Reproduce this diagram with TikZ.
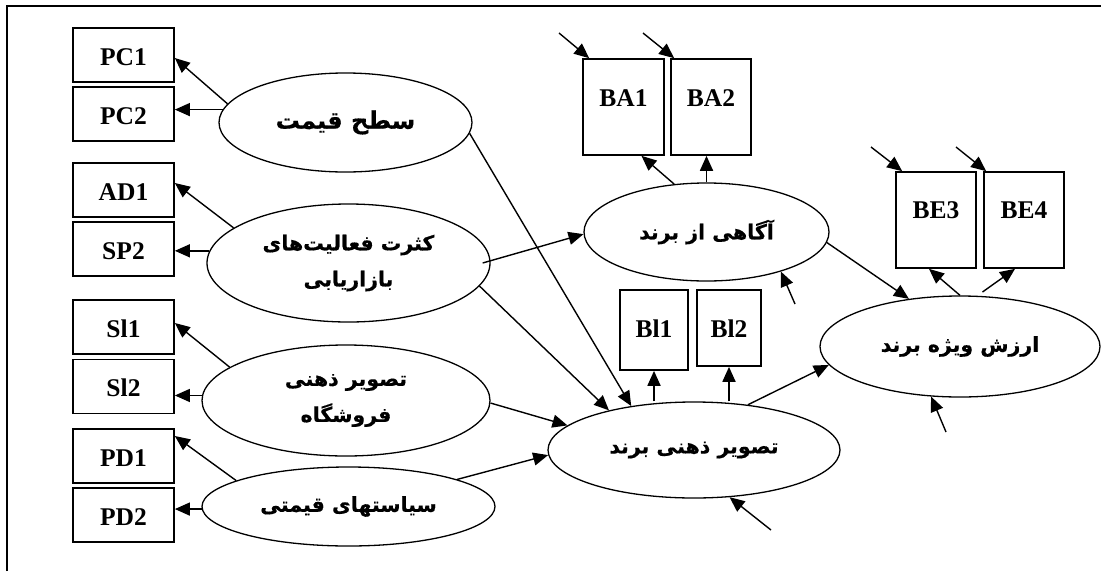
\documentclass[tikz,border=0pt]{standalone}
\usepackage{fontspec}
\setmainfont{Liberation Serif}
\newfontfamily\fa[Script=Arabic, BoldFeatures={FakeBold=0.5}]{DejaVu Sans}
\TeXXeTstate=1
\usetikzlibrary{shapes.geometric,arrows.meta}
\tikzset{
  box/.style={draw, line width=1.7pt, inner sep=0pt, font=\bfseries\fontsize{25.5}{25.5}\selectfont},
  lbox/.style={box, minimum width=101pt, text height=37pt, text depth=17pt},
  ell/.style={draw, ellipse, line width=1.3pt, inner sep=0pt, align=center, font=\fa\bfseries\fontsize{20.5}{36}\selectfont},
  arr/.style={line width=1.4pt, -{Triangle[length=15pt,width=13pt]}},
}
\begin{document}
\begin{tikzpicture}[x=1pt,y=-1pt]
\useasboundingbox (0,0) rectangle (1101,571);
\draw[line width=2pt] (7,571) -- (7,6) -- (1101,6);

% left boxes
\node[lbox] (pc1) at (123.5,55) {PC1};
\node[lbox] (pc2) at (123.5,114) {PC2};
\node[lbox] (ad1) at (123.5,190) {AD1};
\node[lbox] (sp2) at (123.5,249) {SP2};
\node[lbox] (si1) at (123.5,327) {Sl1};
\node[lbox] (si2) at (123.5,386.5) {Sl2};
\node[lbox] (pd1) at (123.5,456) {PD1};
\node[lbox] (pd2) at (123.5,515) {PD2};

% right boxes
\node[box, minimum width=81pt, text height=47pt, text depth=49pt] (ba1) at (623.5,107) {BA1};
\node[box, minimum width=80pt, text height=47pt, text depth=49pt] (ba2) at (711,107) {BA2};
\node[box, minimum width=80pt, text height=46pt, text depth=50pt] (be3) at (936,220) {BE3};
\node[box, minimum width=80pt, text height=46pt, text depth=50pt] (be4) at (1024,220) {BE4};
\node[box, minimum width=68pt, text height=47pt, text depth=33pt] (bi1) at (654,330) {Bl1};
\node[box, minimum width=64pt, text height=47pt, text depth=29pt] (bi2) at (729,328) {Bl2};

% ellipses
\node[ell, minimum width=253pt, minimum height=99pt, font=\fa\bfseries\fontsize{24}{36}\selectfont] (sath) at (345.5,122.5) {\beginR سطح قیمت\endR};
\node[ell, minimum width=283pt, minimum height=118pt] (kesrat) at (348.5,263) {\beginR کثرت فعالیت‌های\endR\\\beginR بازاریابی\endR};
\node[ell, minimum width=288pt, minimum height=111pt] (forush) at (346,400.5) {\beginR تصویر ذهنی\endR\\\beginR فروشگاه\endR};
\node[ell, minimum width=293pt, minimum height=79pt] (siasat) at (348.5,506.5) {\beginR سیاستهای قیمتی\endR};
\node[ell, minimum width=245pt, minimum height=98pt] (agahi) at (706.5,232) {\beginR آگاهی از برند\endR};
\node[ell, minimum width=292pt, minimum height=96pt] (tasvir) at (694,450) {\beginR تصویر ذهنی برند\endR};
\node[ell, minimum width=280pt, minimum height=101pt] (arzesh) at (960,346.5) {\beginR ارزش ویژه برند\endR};

% indicator arrows, left
\draw[arr] (sath.171) -- ([yshift=-3pt]pc1.east);
\draw[arr] (sath.174) -- (sath.174 -| pc2.east);
\draw[arr] (kesrat.163.6) -- ([yshift=7pt]ad1.east);
\draw[arr] (kesrat.175) -- (kesrat.175 -| sp2.east);
\draw[arr] (forush.164) -- ([yshift=4pt]si1.east);
\draw[arr] (forush.178) -- (forush.178 -| si2.east);
\draw[arr] (siasat.167) -- ([yshift=20pt]pd1.east);
\draw[arr] (siasat.181) -- (siasat.181 -| pd2.east);

% structural paths
\draw[arr] (sath.-5) -- (tasvir.145.3);
\draw[arr] ([xshift=-8pt]kesrat.east) -- (agahi.181);
\draw[arr] (kesrat.-10.8) -- (tasvir.155.5);
\draw[arr] (forush.-1.8) -- (tasvir.169.9);
\draw[arr] (siasat.14.6) -- (tasvir.182);
\draw[arr] (tasvir.40) -- (arzesh.188.7);
\draw[arr] (agahi.-5.6) -- (arzesh.137.5);

% indicator arrows, right
\draw[arr, line width=1.8pt] (tasvir.north -| bi1.south) -- (bi1.south);
\draw[arr, line width=1.8pt] (tasvir.north -| bi2.south) -- (bi2.south);
\draw[arr] (agahi.124.4) -- ([xshift=18pt]ba1.south);
\draw[arr, line width=1.8pt] (agahi.north) -- (agahi.north |- ba2.south);
\draw[arr] (arzesh.north) -- ([xshift=-7pt]be3.south);
\draw[arr] ([yshift=4pt]arzesh.66.5) -- ([xshift=-9pt]be4.south);

% error terms
\coordinate (eba1) at (559,33);
\coordinate (eba2) at (643,33);
\coordinate (ebe3) at (871,147);
\coordinate (ebe4) at (956,147);
\coordinate (eag) at (795,304);
\coordinate (earz) at (946,432);
\coordinate (etas) at (771,530);
\draw[arr] (eba1) -- ([xshift=7pt]ba1.north west);
\draw[arr] (eba2) -- ([xshift=4pt]ba2.north west);
\draw[arr] (ebe3) -- ([xshift=7pt]be3.north west);
\draw[arr] (ebe4) -- ([xshift=3pt]be4.north west);
\draw[arr] (eag) -- (agahi.-28);
\draw[arr] (earz) -- (arzesh.240.1);
\draw[arr] (etas) -- (tasvir.-53.3);
\end{tikzpicture}
\end{document}
